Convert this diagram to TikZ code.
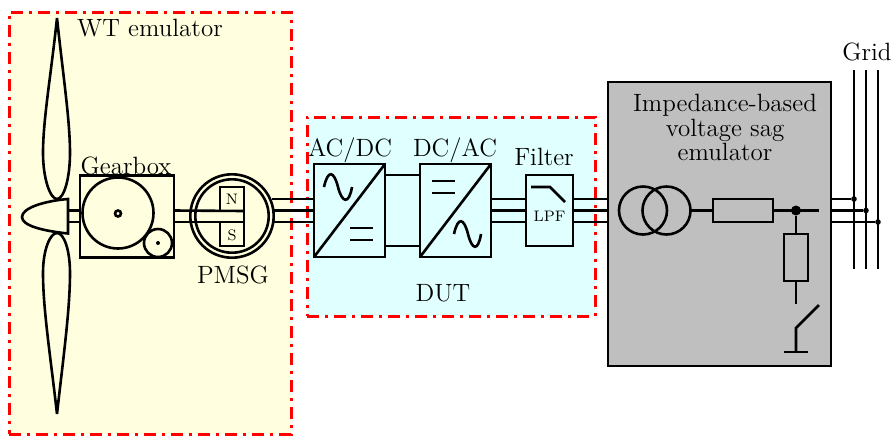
\documentclass[tikz,border=0pt]{standalone}
\usetikzlibrary{calc}
\definecolor{wtfill}{RGB}{255,255,224}
\definecolor{dutfill}{RGB}{224,255,255}
\tikzset{
  x=0.5pt,y=-0.5pt,
  wire/.style={line width=1.3pt,line cap=butt,line join=miter},
  blade/.style={line width=1.3pt,line join=bevel},
  regionbox/.style={draw=red,line width=1.5pt,dash pattern=on 6pt off 3pt on 1.5pt off 3pt,inner sep=0pt,outer sep=0pt},
  blk/.style={draw,line width=1.3pt,inner sep=0pt,outer sep=0pt},
  lbl/.style={inner sep=0pt,outer sep=0pt,text=black,font=\fontsize{12.5}{12.3}\selectfont,align=center},
  tiny/.style={inner sep=0pt,outer sep=0pt,text=black,font=\fontsize{7.6}{8}\selectfont},
  jdot/.style={circle,fill=black,inner sep=0pt,outer sep=0pt,minimum size=#1},
}
\begin{document}
\begin{tikzpicture}
\useasboundingbox (0,0) rectangle (896,435);
% regions
\node[regionbox,fill=wtfill,minimum width=141pt,minimum height=211pt,anchor=north west] (wt) at (9,12) {};
\node[regionbox,fill=dutfill,minimum width=144pt,minimum height=99.5pt,anchor=north west] (dut) at (307,117) {};
\node[blk,fill=black!25,minimum width=111.5pt,minimum height=142pt,anchor=north west] (emu) at (608,82) {};
% phase rows
\coordinate (ya) at (0,199);
\coordinate (yb) at (0,210.5);
\coordinate (yc) at (0,222);
% blocks
\node[blk,minimum width=47pt,minimum height=41pt,anchor=north west] (gear) at (80,175.5) {};
\node[blk,circle,minimum size=41.7pt] (pmsg) at (232,216) {};
\node[blk,circle,minimum size=36.7pt] (pmsgin) at (232,216) {};
\node[blk,minimum width=12pt,minimum height=12pt,anchor=north west] (mN) at (220,187) {};
\node[blk,minimum width=12pt,minimum height=12pt,anchor=north west] (mS) at (220,222) {};
\node[blk,minimum width=35.5pt,minimum height=46.5pt,anchor=north west] (acdc) at (314,164) {};
\node[blk,minimum width=35.5pt,minimum height=46.5pt,anchor=north west] (dcac) at (420,164) {};
\node[blk,minimum width=23.5pt,minimum height=35.5pt,anchor=north west] (lpf) at (526,175) {};
% turbine
\coordinate (hubT) at (68,199);
\coordinate (hubB) at (68,233.5);
\draw[blade] (57,199) .. controls (50,199) and (43,178) .. (43,153) .. controls (43,120) and (51,75) .. (57,18) .. controls (63,75) and (70,120) .. (70,153) .. controls (70,178) and (64,199) .. (57,199) -- cycle;
\draw[blade] (57,233) .. controls (50,233) and (43,250) .. (43,273) .. controls (43,310) and (51,360) .. (57,414) .. controls (63,360) and (70,310) .. (70,273) .. controls (70,250) and (64,233) .. (57,233) -- cycle;
\draw[wire,fill=wtfill] (hubT) -- (hubB) .. controls (44,231) and (22,226) .. (22,217) .. controls (22,208) and (44,201) .. (hubT) -- cycle;
\draw[wire] (hubT |- yb) -- (gear.west |- yb);
\draw[wire] (hubT |- yc) -- (gear.west |- yc);
% gearbox inside
\node[blk,circle,minimum size=35.5pt] (g1) at (118,213) {};
\node[blk,circle,minimum size=14pt,fill=wtfill] (g2) at (158,243) {};
\node[blk,circle,minimum size=3pt] (g1hub) at (118,213.5) {};
\node[jdot=2pt] (g2hub) at (158,243) {};
% shaft
\draw[wire] (gear.east |- yb) -- (mN.south east);
\draw[wire] (gear.east |- yc) -- (mS.north east);
\draw[wire] (mN.south east) -- (mS.north east);
% PMSG outputs to AC/DC
\draw[wire] (272,199) -- (acdc.west |- ya);
\draw[wire] (pmsg.east |- yb) -- (acdc.west |- yb);
\draw[wire] (pmsg.east |- yc) -- (acdc.west |- yc);
% DC link
\draw[wire] ($(acdc.north east)+(0,11)$) -- ($(dcac.north west)+(0,11)$);
\draw[wire] ($(acdc.north east)+(0,82)$) -- ($(dcac.north west)+(0,82)$);
% converter diagonals
\draw[wire] (acdc.south west) -- (acdc.north east);
\draw[wire] (dcac.south west) -- (dcac.north east);
% sines and bars
\draw[wire] (324,187) .. controls (328,169) and (334,171) .. (338,187) .. controls (342,203) and (349,205) .. (352,187);
\draw[wire] (350,228) -- (373,228) (350,240) -- (373,240);
\draw[wire] (432,181) -- (455,181) (432,193) -- (455,193);
\draw[wire] (454,234) .. controls (458,216) and (464,218) .. (468,234) .. controls (472,250) and (478,252) .. (481,234);
% filter
\foreach \r in {ya,yb,yc}{
  \draw[wire] (dcac.east |- \r) -- (lpf.west |- \r);
  \draw[wire] (lpf.east |- \r) -- (emu.west |- \r);
}
\draw[wire] (531,187) -- (550,187) -- (565,202);
% emulator internals
\node[blk,circle,minimum size=24pt] (tr1) at (643,210.5) {};
\node[blk,circle,minimum size=24pt] (tr2) at (666.5,210.5) {};
\node[blk,minimum width=30pt,minimum height=11.5pt] (rs) at (743,210.5) {};
\node[blk,minimum width=12pt,minimum height=23.5pt,anchor=north] (rp) at (796,234) {};
\node[jdot=5pt] (j) at (796,210.5) {};
\coordinate (stub) at (819,210.5);
\coordinate (swtop) at (796,304);
\coordinate (swtip) at (819,305);
\coordinate (swhinge) at (796,328);
\coordinate (gnd) at (796,352);
\draw[wire] (tr2.east) -- (rs.west);
\draw[wire] (rs.east) -- (stub);
\draw[wire] (j) -- (rp.north);
\draw[wire] (rp.south) -- (swtop);
\draw[wire] (swtip) -- (swhinge) -- (gnd);
\draw[wire] (784,352) -- (808,352);
% grid
\coordinate (g1t) at (854,70); \coordinate (g1b) at (854,269);
\coordinate (g2t) at (866,70); \coordinate (g2b) at (866,269);
\coordinate (g3t) at (878,70); \coordinate (g3b) at (878,269);
\draw[wire] (g1t) -- (g1b);
\draw[wire] (g2t) -- (g2b);
\draw[wire] (g3t) -- (g3b);
\node[jdot=2.8pt] (d1) at (854,199) {};
\node[jdot=2.8pt] (d2) at (866,210.5) {};
\node[jdot=2.8pt] (d3) at (878,222) {};
\draw[wire] (emu.east |- ya) -- (d1);
\draw[wire] (emu.east |- yb) -- (d2);
\draw[wire] (emu.east |- yc) -- (d3);
% labels
\node[lbl] (tWT) at (150,28) {WT emulator};
\node[lbl] (tGB) at (126,166) {Gearbox};
\node[lbl] (tPM) at (233,275) {PMSG};
\node[tiny] (tN) at (232,199) {N};
\node[tiny] (tS) at (232,235) {S};
\node[lbl] (tAD) at (350,150) {AC/DC};
\node[lbl] (tDA) at (455,150) {DC/AC};
\node[lbl] (tFi) at (544,157) {Filter};
\node[tiny] (tLP) at (549.5,216) {LPF};
\node[lbl] (tDU) at (443,293) {DUT};
\node[lbl] (tIm) at (725,127.5) {Impedance-based\\voltage sag\\emulator};
\node[lbl] (tGr) at (867,52) {Grid};
\end{tikzpicture}
\end{document}
